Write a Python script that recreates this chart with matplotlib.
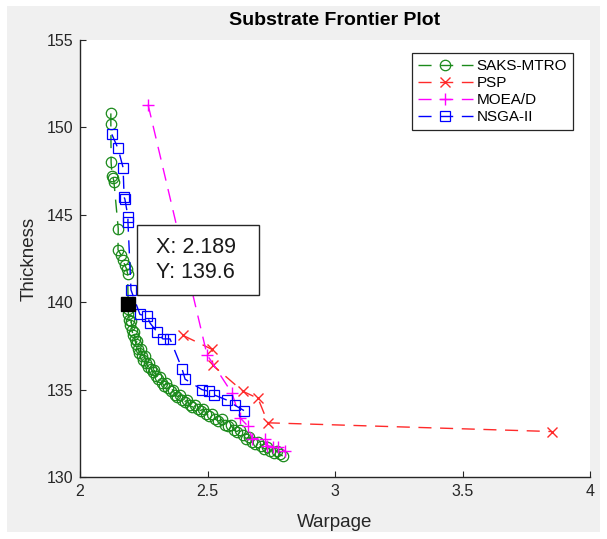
import matplotlib
matplotlib.use("Agg")
import matplotlib.pyplot as plt
from matplotlib.patches import Rectangle

plt.rcParams['font.family'] = ['Liberation Sans', 'DejaVu Sans']

# ---------------- data ----------------
saks_x = [2.121, 2.121, 2.122, 2.126, 2.130, 2.133, 2.150, 2.149, 2.161, 2.169,
          2.176, 2.183, 2.187, 2.189,
          2.190, 2.193, 2.198, 2.201, 2.204, 2.208, 2.212, 2.215, 2.219, 2.224,
          2.228, 2.233, 2.238, 2.243, 2.249, 2.254, 2.260, 2.266, 2.272, 2.278,
          2.285, 2.292, 2.299, 2.306, 2.314, 2.322, 2.330, 2.338, 2.346, 2.355,
          2.364, 2.373, 2.382, 2.391, 2.400, 2.410, 2.420, 2.430, 2.440, 2.451,
          2.462, 2.473, 2.484, 2.495, 2.507, 2.519, 2.531, 2.543, 2.555, 2.567,
          2.579, 2.591, 2.603, 2.615, 2.627, 2.639, 2.651, 2.663, 2.675, 2.687,
          2.699, 2.711, 2.723, 2.735, 2.747, 2.759, 2.771, 2.783, 2.795]
saks_y = [150.8, 150.2, 148.0, 147.2, 147.1, 146.9, 144.2, 143.0, 142.7, 142.4,
          142.1, 141.9, 141.6, 139.6,
          139.3, 139.0, 138.7, 138.9, 138.4, 138.1, 138.3, 137.9, 137.6, 137.8,
          137.3, 137.1, 137.3, 136.9, 136.7, 136.9, 136.5, 136.3, 136.5, 136.2,
          136.0, 136.1, 135.8, 135.6, 135.7, 135.4, 135.2, 135.4, 135.1, 134.9,
          135.0, 134.7, 134.6, 134.7, 134.4, 134.3, 134.4, 134.1, 134.0, 134.1,
          133.9, 133.8, 133.9, 133.6, 133.5, 133.6, 133.3, 133.2, 133.3, 133.0,
          132.9, 133.0, 132.7, 132.6, 132.7, 132.4, 132.2, 132.3, 132.0, 131.9,
          132.0, 131.8, 131.6, 131.7, 131.5, 131.4, 131.5, 131.3, 131.2]

psp_x = [2.404, 2.518, 2.520, 2.639, 2.698, 2.737, 3.851]
psp_y = [138.1, 137.3, 136.4, 134.9, 134.5, 133.1, 132.6]

moead_x = [2.267, 2.498, 2.596, 2.627, 2.659, 2.675, 2.725, 2.733, 2.757, 2.776, 2.804]
moead_y = [151.3, 137.0, 134.8, 133.4, 132.9, 132.2, 132.2, 131.8, 131.7, 131.7, 131.5]

nsga_x = [2.125, 2.149, 2.169, 2.173, 2.176, 2.188, 2.188, 2.200, 2.235, 2.263,
          2.275, 2.302, 2.325, 2.353, 2.400, 2.412, 2.478, 2.506, 2.525, 2.576,
          2.608, 2.643]
nsga_y = [149.6, 148.8, 147.7, 146.0, 145.9, 144.9, 144.6, 140.7, 139.3, 139.2,
          138.8, 138.3, 137.9, 137.9, 136.2, 135.6, 135.0, 134.9, 134.7, 134.4,
          134.1, 133.8]

tip_x = 2.189
tip_y = 139.6
tip_marker_y = 139.9

series_names = ['SAKS-MTRO', 'PSP', 'MOEA/D', 'NSGA-II']
x_ticks = [2, 2.5, 3, 3.5, 4]
x_tick_labels = ['2', '2.5', '3', '3.5', '4']
y_ticks = [130, 135, 140, 145, 150, 155]

# ---------------- figure ----------------
fig = plt.figure(figsize=(6.07, 5.39), dpi=100)
fig.patch.set_facecolor('white')
fig.add_artist(Rectangle((7/607, 1 - 532/539), 593/607, 526/539,
                         transform=fig.transFigure, facecolor='#f0f0f0',
                         edgecolor='none', zorder=-10))

ax = fig.add_axes([80/607, 1 - 477/539, 510/607, 437/539])
ax.set_facecolor('white')

dash = (0, (9.4, 6.2))
green = '#1b8a1b'
ax.plot(saks_x, saks_y, linestyle=dash, color=green, lw=1, marker='o',
        ms=7.5, mfc='none', mec=green, mew=0.9, label=series_names[0], zorder=3)
ax.plot(psp_x, psp_y, linestyle=dash, color='#ff2a2a', lw=1, marker='x',
        ms=7.5, mew=1.0, label=series_names[1], zorder=4)
ax.plot(moead_x, moead_y, linestyle=dash, color='#ff00ff', lw=1, marker='+',
        ms=9, mew=1.0, label=series_names[2], zorder=5)
ax.plot(nsga_x, nsga_y, linestyle=dash, color='#0000ff', lw=1, marker='s',
        ms=6.5, mfc='none', mec='#0000ff', mew=0.9, label=series_names[3], zorder=6)

ax.plot([tip_x], [tip_marker_y], marker='s', ms=9.5, color='black',
        linestyle='none', zorder=8)

ax.set_xlim(2, 4)
ax.set_ylim(130, 155)
ax.set_xticks(x_ticks)
ax.set_xticklabels(x_tick_labels)
ax.set_yticks(y_ticks)
for s in ['top', 'right']:
    ax.spines[s].set_visible(False)
for s in ['left', 'bottom']:
    ax.spines[s].set_color('#262626')
    ax.spines[s].set_linewidth(1.0)
ax.tick_params(direction='in', length=4, width=0.8, colors='#262626',
               labelsize=11.5, labelcolor='#262626', pad=5)

ax.set_title('Substrate Frontier Plot', fontsize=14, fontweight='bold',
             color='black', pad=11)
ax.set_xlabel('Warpage', fontsize=13.5, color='#262626', labelpad=11)
ax.set_ylabel('Thickness', fontsize=13.5, color='#262626', labelpad=6)

leg = ax.legend(loc='upper right', bbox_to_anchor=(0.967, 0.970),
                borderaxespad=0, fancybox=False, framealpha=1,
                edgecolor='#262626', fontsize=11, numpoints=1,
                handlelength=3.6, handletextpad=0.25, labelspacing=0.2,
                borderpad=0.4)
leg.get_frame().set_linewidth(0.9)

# data tip
ax.add_patch(Rectangle(((137 - 80)/510, (477 - 295)/437), 122/510, 70/437,
                       transform=ax.transAxes, facecolor='white',
                       edgecolor='#262626', lw=1.0, zorder=9))
ax.text((156 - 80)/510, (477 - 260)/437, f'X: {tip_x}\nY: {tip_y}',
        transform=ax.transAxes, ha='left', va='center', fontsize=15.5,
        color='#1a1a1a', zorder=10, linespacing=1.2)

fig.savefig('out.png', dpi=100, facecolor=fig.get_facecolor())
